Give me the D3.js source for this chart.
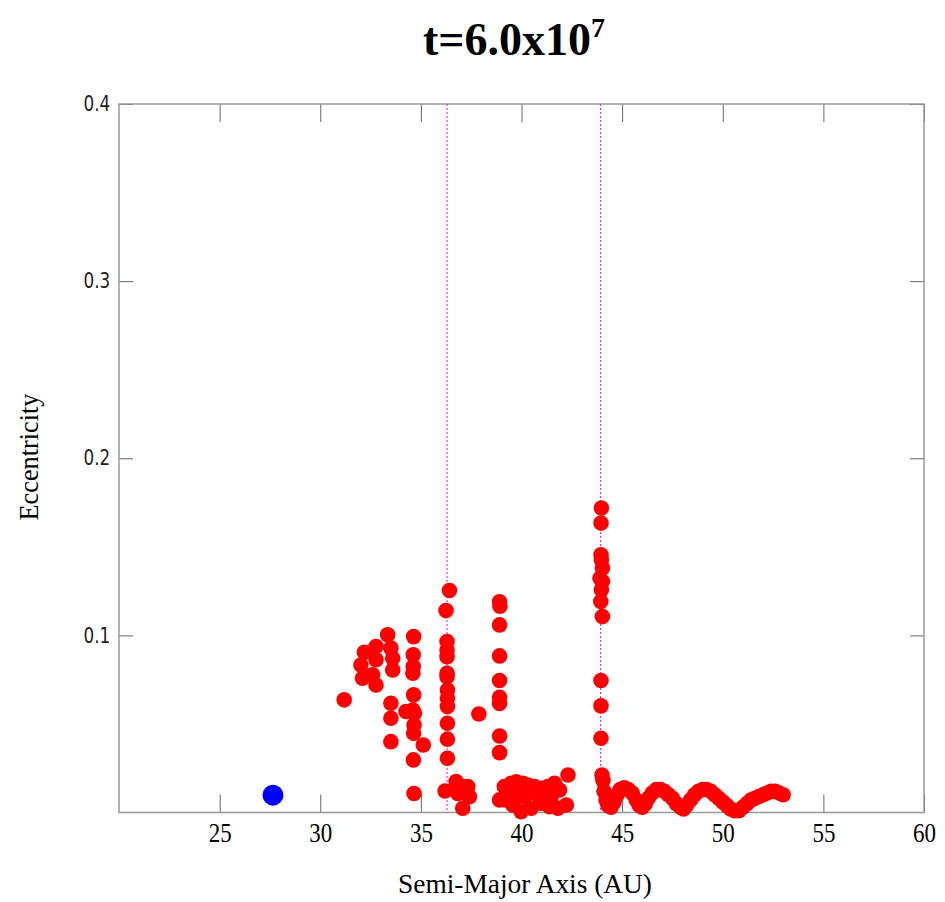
<!DOCTYPE html>
<html>
<head>
<meta charset="utf-8">
<script src="https://cdn.jsdelivr.net/npm/d3@7"></script>
<style>
  body { margin: 0; background: #fff; }
  svg { display: block; }
</style>
</head>
<body>
<script>
// planet (Neptune) position
var planetA = [27.65];
var planetE = [0.0098];

// test particles, semi-major axis (AU) and eccentricity
var semiMajor = [
  31.19, 32.02, 32.19, 32.10, 32.60, 32.77, 32.77, 32.77, 33.35, 33.51, 33.60, 33.60, 33.51, 33.51, 33.51, 34.26, 35.12,
  34.64, 34.62, 34.62, 34.60, 34.64, 34.60, 34.68, 34.66, 34.64, 34.63, 34.66,
  36.42, 36.25, 36.30, 36.30, 36.30, 36.30, 36.30, 36.32, 36.32, 36.32, 36.32, 36.32, 36.32, 36.20,
  36.75, 36.83, 37.33, 37.41, 37.08, 37.00, 37.88,
  38.91, 38.93, 38.91, 38.91, 38.91, 38.91, 38.91, 38.91, 38.91,
  38.91, 39.15, 39.49, 39.74, 40.07, 40.32, 40.65, 40.98, 41.31, 41.64, 41.89, 42.23, 41.81, 41.40,
  40.98, 40.48, 39.98, 39.57, 39.24, 40.15, 40.82, 39.74, 41.48, 42.31,
  43.97, 43.95, 43.95, 43.97, 44.02, 43.90, 44.02, 43.97, 43.94, 44.02, 43.95, 43.95, 43.95, 44.00,
  44.05, 44.10, 44.20, 44.30, 44.45, 44.60, 44.75, 44.90, 45.10, 45.30, 45.50, 45.70, 45.85, 46.00,
  46.15, 46.30, 46.50, 46.70, 46.90, 47.10, 47.30, 47.50, 47.70, 47.90, 48.05, 48.20, 48.40, 48.60,
  48.80, 49.00, 49.20, 49.40, 49.60, 49.80, 50.00, 50.20, 50.40, 50.60, 50.80, 51.00, 51.20, 51.40,
  51.60, 51.80, 52.00, 52.20, 52.40, 52.60, 52.80, 53.00
];
var eccentricity = [
  0.0636, 0.0833, 0.0905, 0.0758, 0.0777, 0.0937, 0.0862, 0.0720, 0.1003, 0.0928, 0.0871, 0.0805, 0.0617, 0.0532, 0.0400, 0.0570, 0.0381,
  0.0993, 0.0890, 0.0824, 0.0786, 0.0664, 0.0579, 0.0560, 0.0494, 0.0447, 0.0297, 0.0107,
  0.1253, 0.1140, 0.0965, 0.0918, 0.0880, 0.0786, 0.0767, 0.0692, 0.0645, 0.0598, 0.0504, 0.0414, 0.0306, 0.0121,
  0.0175, 0.0108, 0.0146, 0.0089, 0.0024, 0.0150, 0.0556,
  0.1190, 0.1165, 0.1059, 0.0884, 0.0745, 0.0651, 0.0615, 0.0432, 0.0338,
  0.0071, 0.0146, 0.0165, 0.0174, 0.0165, 0.0155, 0.0146, 0.0137, 0.0146, 0.0165, 0.0127, 0.0042, 0.0024, 0.0033,
  0.0052, 0.0024, 0.0005, 0.0042, 0.0071, 0.0089, 0.0099, 0.0099, 0.0089, 0.0212,
  0.1719, 0.1634, 0.1455, 0.1427, 0.1380, 0.1323, 0.1304, 0.1257, 0.1191, 0.1106, 0.0745, 0.0602, 0.0419, 0.0212,
  0.0180, 0.0120, 0.0070, 0.0040, 0.0030, 0.0060, 0.0100, 0.0130, 0.0140, 0.0130, 0.0110, 0.0070, 0.0040, 0.0030,
  0.0050, 0.0080, 0.0110, 0.0130, 0.0130, 0.0120, 0.0100, 0.0080, 0.0050, 0.0030, 0.0020, 0.0040, 0.0070, 0.0100,
  0.0120, 0.0130, 0.0130, 0.0120, 0.0100, 0.0080, 0.0060, 0.0040, 0.0020, 0.0010, 0.0010, 0.0030, 0.0050, 0.0070,
  0.0080, 0.0090, 0.0100, 0.0110, 0.0120, 0.0120, 0.0110, 0.0100
];

// resonance locations (3:2 and 2:1)
var resonances = [36.3, 43.93];

var xTicks = [25, 30, 35, 40, 45, 50, 55, 60];
var yTicks = [0.1, 0.2, 0.3, 0.4];

var W = 945, H = 902;
var plotL = 119, plotR = 924, plotT = 104, plotB = 812.5;

var svg = d3.select('body').append('svg')
    .attr('width', W)
    .attr('height', H);

var x = d3.scaleLinear().domain([20, 60]).range([plotL, plotR]);
var y = d3.scaleLinear().domain([0, 0.4]).range([plotB, plotT]);

// axes with inward ticks on all four sides
var gx = svg.append('g')
    .attr('transform', 'translate(0,' + plotB + ')')
    .call(d3.axisBottom(x).tickValues(xTicks).tickSize(-18).tickPadding(10).tickFormat(d3.format('d')));
var gxt = svg.append('g')
    .attr('transform', 'translate(0,' + plotT + ')')
    .call(d3.axisTop(x).tickValues(xTicks).tickSize(-18).tickFormat(''));
var gy = svg.append('g')
    .attr('transform', 'translate(' + plotL + ',0)')
    .call(d3.axisLeft(y).tickValues(yTicks).tickSize(-14).tickPadding(10).tickFormat(d3.format('.1f')));
var gyr = svg.append('g')
    .attr('transform', 'translate(' + plotR + ',0)')
    .call(d3.axisRight(y).tickValues(yTicks).tickSize(-14).tickFormat(''));

[gx, gxt, gy, gyr].forEach(function(g) {
  g.select('.domain').remove();
  g.selectAll('.tick line').attr('stroke', '#666').attr('stroke-width', 1);
});

gx.selectAll('.tick text')
    .attr('font-family', '"Liberation Serif", "Times New Roman", serif')
    .attr('font-size', 28)
    .attr('fill', '#000')
    .attr('transform', 'scale(0.82,1)');

gy.selectAll('.tick text')
    .attr('font-family', '"DejaVu Sans", sans-serif')
    .attr('font-size', 21)
    .attr('fill', '#222')
    .attr('x', -11)
    .attr('transform', 'scale(0.8,1)');

// frame
svg.append('rect')
    .attr('x', plotL).attr('y', plotT)
    .attr('width', plotR - plotL).attr('height', plotB - plotT)
    .attr('fill', 'none')
    .attr('stroke', '#999')
    .attr('stroke-width', 1.5);

// resonance lines
svg.selectAll('.res')
  .data(resonances)
  .enter().append('line')
    .attr('class', 'res')
    .attr('x1', function(d) { return x(d); })
    .attr('x2', function(d) { return x(d); })
    .attr('y1', plotT)
    .attr('y2', plotB)
    .attr('stroke', '#ff00ff')
    .attr('stroke-width', 1)
    .attr('stroke-dasharray', '2,2');

// particles
var pts = semiMajor.map(function(a, i) { return [a, eccentricity[i]]; });
svg.append('g').selectAll('circle')
  .data(pts)
  .enter().append('circle')
    .attr('cx', function(d) { return x(d[0]); })
    .attr('cy', function(d) { return y(d[1]); })
    .attr('r', 7.8)
    .attr('fill', '#ff0000');

// planet
svg.append('g').selectAll('circle')
  .data(planetA.map(function(a, i) { return [a, planetE[i]]; }))
  .enter().append('circle')
    .attr('cx', function(d) { return x(d[0]); })
    .attr('cy', function(d) { return y(d[1]); })
    .attr('r', 10.5)
    .attr('fill', '#0000ff');

// title
var title = svg.append('text')
    .attr('x', 514)
    .attr('y', 55)
    .attr('text-anchor', 'middle')
    .attr('font-family', '"Liberation Serif", "Times New Roman", serif')
    .attr('font-weight', 'bold')
    .attr('font-size', 46);
title.append('tspan').text('t=6.0x10');
title.append('tspan').attr('font-size', 28).attr('dy', -18).text('7');

// axis labels
svg.append('text')
    .attr('x', 525)
    .attr('y', 893)
    .attr('text-anchor', 'middle')
    .attr('font-family', '"Liberation Serif", "Times New Roman", serif')
    .attr('font-size', 27)
    .attr('textLength', 254)
    .attr('lengthAdjust', 'spacingAndGlyphs')
    .text('Semi-Major Axis (AU)');

svg.append('text')
    .attr('transform', 'translate(38,457) rotate(-90)')
    .attr('text-anchor', 'middle')
    .attr('font-family', '"Liberation Serif", "Times New Roman", serif')
    .attr('font-size', 28)
    .attr('textLength', 127)
    .attr('lengthAdjust', 'spacingAndGlyphs')
    .text('Eccentricity');
</script>
</body>
</html>
